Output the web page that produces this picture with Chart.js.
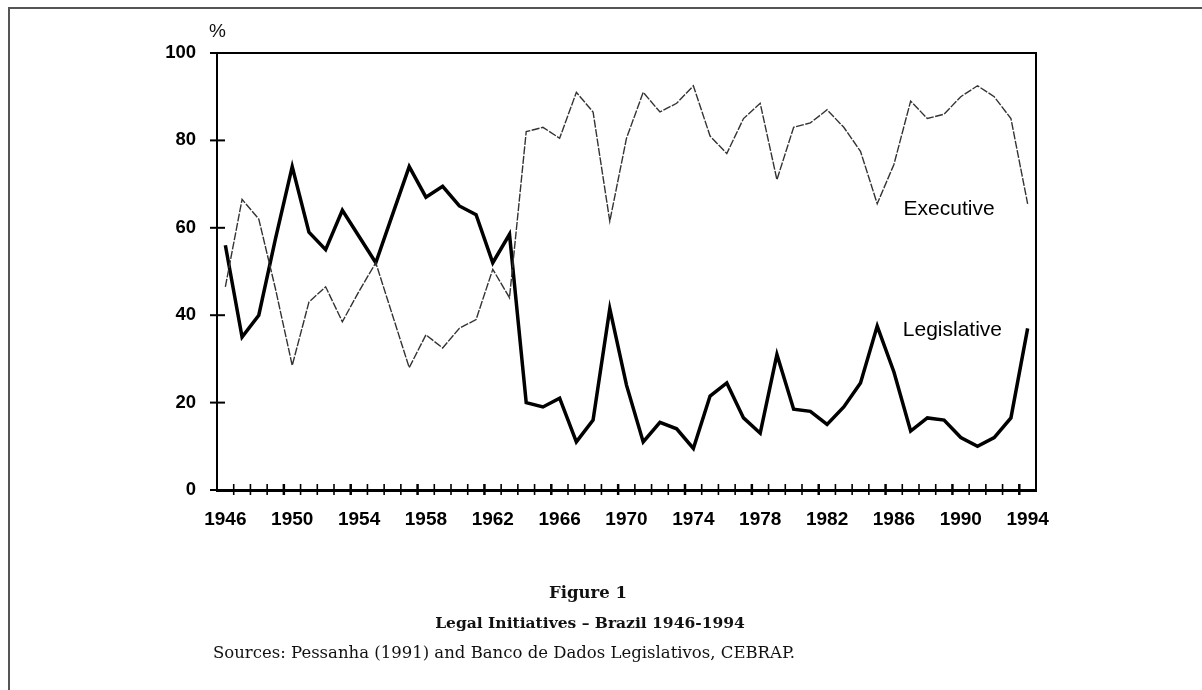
<!DOCTYPE html>
<html>
<head>
<meta charset="utf-8">
<script src="https://cdn.jsdelivr.net/npm/chart.js@4/dist/chart.umd.min.js"></script>
<style>
body { margin: 0; background: #fff; }
#wrap { position: relative; width: 1202px; height: 690px; overflow: hidden; }
#frame { position: absolute; left: 8px; top: 7px; right: -10px; bottom: -10px; border-left: 2px solid #555; border-top: 2px solid #555; }
canvas { position: absolute; left: 0; top: 0; }
.t { position: absolute; font-family: "DejaVu Serif", serif; color: #111; white-space: nowrap; line-height: 20px; }
</style>
</head>
<body>
<div id="wrap">
  <div id="frame"></div>
  <canvas id="myChart" width="1202" height="690"></canvas>
  <div class="t" style="left:209px; top:21px; font-family:'Liberation Sans',sans-serif; font-size:19px;">%</div>
  <div class="t" style="left:588px; top:583px; transform:translateX(-50%); font-weight:bold; font-size:16.5px;">Figure 1</div>
  <div class="t" style="left:590px; top:613px; transform:translateX(-50%); font-weight:bold; font-size:15.5px;">Legal Initiatives – Brazil 1946-1994</div>
  <div class="t" style="left:213px; top:643px; font-size:16.5px;">Sources: Pessanha (1991) and Banco de Dados Legislativos, CEBRAP.</div>
</div>
<script>
const years = ['1946','1947','1948','1949','1950','1951','1952','1953','1954','1955',
  '1956','1957','1958','1959','1960','1961','1962','1963','1964','1965',
  '1966','1967','1968','1969','1970','1971','1972','1973','1974','1975',
  '1976','1977','1978','1979','1980','1981','1982','1983','1984','1985',
  '1986','1987','1988','1989','1990','1991','1992','1993','1994'];

const executive = [46.5, 66.5, 62, 46, 28.5, 43, 46.5, 38.5, 45.5, 52,
  40, 28, 35.5, 32.5, 37, 39, 50.5, 44, 82, 83,
  80.5, 91, 86.5, 61.5, 80.5, 91, 86.5, 88.5, 92.5, 81,
  77, 85, 88.5, 71, 83, 84, 87, 83, 77.5, 65.5,
  74.5, 89, 85, 86, 90, 92.5, 90, 85, 65.5];

const legislative = [56, 35, 40, 57.5, 74, 59, 55, 64, 58, 52,
  63, 74, 67, 69.5, 65, 63, 52, 58.5, 20, 19,
  21, 11, 16, 41.5, 24, 11, 15.5, 14, 9.5, 21.5,
  24.5, 16.5, 13, 31, 18.5, 18, 15, 19, 24.5, 37.5,
  27, 13.5, 16.5, 16, 12, 10, 12, 16.5, 37];

const yTicks = [0, 20, 40, 60, 80, 100];
const labelEvery = 4;

// tick marks crossing the axes, plot box, series names
const axisMarks = {
  id: 'axisMarks',
  afterDraw(chart) {
    const ctx = chart.ctx;
    const a = chart.chartArea;
    const xs = chart.scales.x;
    const ys = chart.scales.y;
    ctx.save();
    ctx.strokeStyle = '#000';

    ctx.lineWidth = 2;
    ctx.beginPath();
    ctx.moveTo(a.left, a.top);
    ctx.lineTo(a.right, a.top);
    ctx.lineTo(a.right, a.bottom);
    ctx.stroke();

    yTicks.forEach(v => {
      const y = ys.getPixelForValue(v);
      ctx.beginPath();
      ctx.moveTo(a.left - 7, y);
      ctx.lineTo(a.left + 8, y);
      ctx.stroke();
    });

    for (let i = 1; i < years.length; i++) {
      const x = (xs.getPixelForTick(i - 1) + xs.getPixelForTick(i)) / 2;
      ctx.lineWidth = (i % labelEvery === 0) ? 2.5 : 1.6;
      ctx.beginPath();
      ctx.moveTo(x, a.bottom - 6);
      ctx.lineTo(x, a.bottom + 5);
      ctx.stroke();
    }

    ctx.fillStyle = '#000';
    ctx.font = '21px "Liberation Sans"';
    ctx.textAlign = 'center';
    ctx.textBaseline = 'middle';
    ctx.fillText('Executive', xs.getPixelForValue(43.3), ys.getPixelForValue(64.3));
    ctx.fillText('Legislative', xs.getPixelForValue(43.5), ys.getPixelForValue(36.6));
    ctx.restore();
  }
};

const data = {
  labels: years,
  datasets: [{
    label: 'Executive',
    data: executive,
    borderColor: '#333',
    borderWidth: 1.4,
    borderDash: [8, 1.5],
    pointRadius: 0,
    tension: 0
  }, {
    label: 'Legislative',
    data: legislative,
    borderColor: '#000',
    borderWidth: 3.5,
    pointRadius: 0,
    tension: 0
  }]
};

const config = {
  type: 'line',
  data: data,
  options: {
    responsive: false,
    animation: false,
    layout: {
      padding: { left: 20, top: 53, right: 166, bottom: 155 }
    },
    plugins: {
      legend: { display: false },
      tooltip: { enabled: false }
    },
    scales: {
      x: {
        offset: true,
        grid: { display: false, drawTicks: false },
        border: { display: true, color: '#000', width: 3 },
        ticks: {
          autoSkip: false,
          maxRotation: 0,
          padding: 18,
          color: '#000',
          font: { family: 'Liberation Sans', size: 19, weight: 'bold' },
          callback: (v, i) => (i % labelEvery === 0) ? years[i] : ''
        },
        afterFit: s => { s.height = 45; }
      },
      y: {
        min: 0,
        max: 100,
        grid: { display: false, drawTicks: false },
        border: { display: true, color: '#000', width: 2 },
        ticks: {
          stepSize: 20,
          padding: 21,
          color: '#000',
          font: { family: 'Liberation Sans', size: 18.5, weight: 'bold' }
        },
        afterFit: s => { s.width = 197; }
      }
    }
  },
  plugins: [axisMarks]
};

const ctx = document.getElementById('myChart');

new Chart(ctx, config);
</script>
</body>
</html>
